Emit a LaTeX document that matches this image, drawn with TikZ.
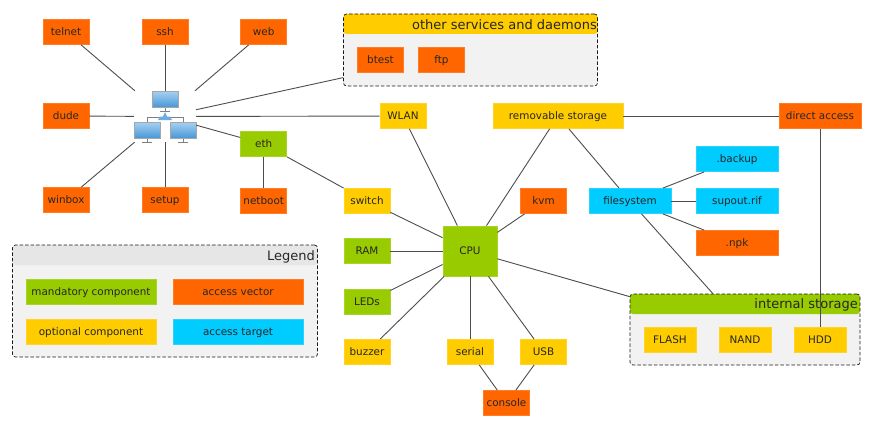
\documentclass[tikz,border=0pt]{standalone}
\usepackage{fontspec}
\setmainfont{DejaVu Sans}
\definecolor{vectorcol}{HTML}{FF6600}
\definecolor{mandatorycol}{HTML}{99CC00}
\definecolor{optionalcol}{HTML}{FFCC00}
\definecolor{targetcol}{HTML}{00CCFF}
\definecolor{groupcol}{HTML}{F2F2F2}
\definecolor{legendcol}{HTML}{E6E6E6}
\definecolor{linkcol}{HTML}{4D4D4D}
\definecolor{screentop}{HTML}{A5D2F2}
\definecolor{screenbot}{HTML}{4A97D8}
\tikzset{
  box/.style={draw=#1!85!white,fill=#1,line width=0.8pt,minimum height=25pt,inner sep=0pt,text=black!85,text height=9pt,text depth=1.6pt,font=\fontsize{10.4}{12}\selectfont},
  vector/.style={box=vectorcol,minimum width=46pt},
  mandatory/.style={box=mandatorycol,minimum width=46pt},
  optional/.style={box=optionalcol,minimum width=46pt},
  target/.style={box=targetcol,minimum width=82pt},
  groupbox/.style 2 args={draw=black!90,dash pattern=on 3.5pt off 2pt,line width=0.7pt,fill=groupcol,rounded corners=3pt,inner sep=0pt,
    path picture={\fill[#1] (path picture bounding box.north west) rectangle ++(#2,20);}},
  grouptitle/.style={anchor=east,inner sep=0pt,text=black!85,font=\fontsize{13}{15}\selectfont},
  link/.style={draw=linkcol,line width=0.9pt},
  pics/monitor/.style={code={
    \draw[gray,line width=0.9pt] (0,8) -- (0,12);
    \draw[gray,line width=1.2pt] (-5,12.5) -- (5,12.5);
    \shade[draw=black!35,line width=0.7pt,top color=screentop,bottom color=screenbot] (-13,-8) rectangle (13,8);
  }}
}
\begin{document}
\begin{tikzpicture}[x=1pt,y=-1pt]
  \useasboundingbox (0,0) rectangle (881,428);

  % Groups
  \node[groupbox={optionalcol}{254},minimum width=254pt,minimum height=72pt] (other) at (470.5,50) {};
  \node[grouptitle] (othertitle) at (597,24.5) {other services and daemons};
  \node[groupbox={mandatorycol}{230},minimum width=230pt,minimum height=71pt] (internal) at (745,329.5) {};
  \node[grouptitle] (internaltitle) at (858,304.5) {internal storage};
  \node[groupbox={legendcol}{305},minimum width=305pt,minimum height=112pt] (legend) at (165,301) {};
  \node[grouptitle] (legendtitle) at (315,257) {Legend};

  % Access vectors
  \node[vector] (telnet) at (66,32) {telnet};
  \node[vector] (ssh) at (165,32) {ssh};
  \node[vector] (web) at (263.7,32) {web};
  \node[vector] (dude) at (66,116) {dude};
  \node[vector] (winbox) at (66,200) {winbox};
  \node[vector] (setup) at (165,200) {setup};
  \node[vector] (netboot) at (263.7,201) {netboot};
  \node[vector] (btest) at (380.5,60) {btest};
  \node[vector] (ftp) at (441.5,60) {ftp};
  \node[vector] (kvm) at (543.5,201) {kvm};
  \node[vector] (console) at (506.5,403) {console};
  \node[vector,minimum width=82pt] (direct) at (820,116) {direct access};
  \node[vector,minimum width=82pt] (npk) at (737,243) {.npk};

  % Network
  \node[minimum width=62pt,minimum height=51pt,inner sep=0pt] (net) at (165,116.5) {};
  \draw[gray,line width=0.9pt] (147,122) |- (183,117.5) -- (183,122);
  \pic at (165,99) {monitor};
  \pic at (147,130) {monitor};
  \pic at (183,130) {monitor};
  \fill[screenbot!80!white] (158,120) -- (160,116.5) -- (163,116.5) -- (165,112) -- (167,116.5) -- (170,116.5) -- (172,120) -- cycle;

  % Components
  \node[box=mandatorycol,minimum width=54pt,minimum height=50pt] (cpu) at (470,251) {CPU};
  \node[mandatory] (eth) at (263.7,144) {eth};
  \node[mandatory] (ram) at (367,251) {RAM};
  \node[mandatory] (leds) at (367,302) {LEDs};
  \node[optional] (switch) at (367,201) {switch};
  \node[optional] (wlan) at (403,116) {WLAN};
  \node[optional] (buzzer) at (367,352) {buzzer};
  \node[optional] (serial) at (470,352) {serial};
  \node[optional] (usb) at (543.5,352) {USB};
  \node[optional,minimum width=130pt] (removable) at (558,116) {removable storage};
  \node[optional,minimum width=52pt] (flash) at (670,340) {FLASH};
  \node[optional,minimum width=52pt] (nand) at (745,340) {NAND};
  \node[optional,minimum width=52pt] (hdd) at (820,340) {HDD};

  % Access targets
  \node[target] (filesystem) at (630,201) {filesystem};
  \node[target] (backup) at (737,159) {.backup};
  \node[target] (supout) at (737,201) {supout.rif};

  % Legend
  \node[box=mandatorycol,minimum width=130pt] (keymandatory) at (91,292) {mandatory component};
  \node[box=vectorcol,minimum width=130pt] (keyvector) at (238,292) {access vector};
  \node[box=optionalcol,minimum width=130pt] (keyoptional) at (91,332) {optional component};
  \node[box=targetcol,minimum width=130pt] (keytarget) at (238,332) {access target};

  % Links
  \draw[link] (telnet) -- (net);
  \draw[link] (ssh) -- (net);
  \draw[link] (web) -- (net);
  \draw[link] (dude) -- (net);
  \draw[link] (winbox) -- (net);
  \draw[link] (setup) -- (net);
  \draw[link] (eth) -- (net);
  \draw[link] (wlan) -- (net);
  \draw[link] (other) -- (net);
  \draw[link] (eth) -- (netboot);
  \draw[link] (eth) -- (switch);
  \draw[link] (switch) -- (cpu);
  \draw[link] (wlan) -- (cpu);
  \draw[link] (removable) -- (cpu);
  \draw[link] (kvm) -- (cpu);
  \draw[link] (ram) -- (cpu);
  \draw[link] (leds) -- (cpu);
  \draw[link] (buzzer) -- (cpu);
  \draw[link] (serial) -- (cpu);
  \draw[link] (usb) -- (cpu);
  \draw[link] (cpu) -- (internal);
  \draw[link] (serial) -- (console);
  \draw[link] (usb) -- (console);
  \draw[link] (removable) -- (direct);
  \draw[link] (removable) -- (filesystem);
  \draw[link] (filesystem) -- (internal);
  \draw[link] (filesystem) -- (backup);
  \draw[link] (filesystem) -- (supout);
  \draw[link] (filesystem) -- (npk);
  \draw[link] (direct) -- (hdd);
\end{tikzpicture}
\end{document}
